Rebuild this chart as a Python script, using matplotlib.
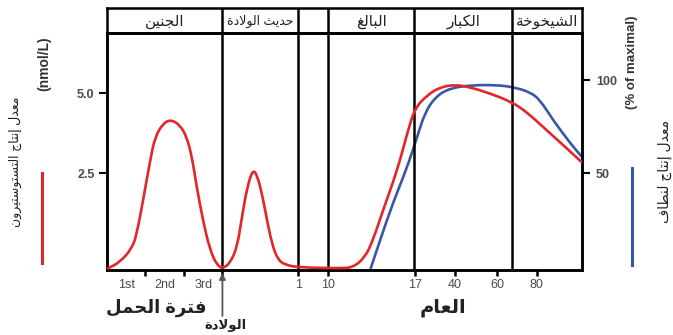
import matplotlib
matplotlib.use("Agg")
import matplotlib.pyplot as plt
from matplotlib.path import Path
from matplotlib.patches import PathPatch

plt.rcParams['font.family'] = ['Liberation Sans', 'DejaVu Sans']

# ---------------- data ----------------
stage_labels = ['الجنين', 'حديث الولادة', '', 'البالغ', 'الكبار', 'الشيخوخة']
stage_bounds = [0, 24.3, 40.3, 46.6, 64.7, 85.3, 100]
trimester_labels = ['1st', '2nd', '3rd']
trimester_bounds = [0, 8.1, 16.2, 24.3]
age_labels = ['1', '10', '17', '40', '60', '80']
age_pos = [40.3, 46.6, 64.8, 73.3, 82.1, 90.5]

testo_x = [0.2, 2.7, 5.3, 6.3, 7.6, 9.1, 10.1, 11.8, 13.5, 15.4, 16.8, 17.9, 18.9,
           20.2, 21.7, 23.2, 24.4, 25.9, 27.4, 28.4, 29.5, 30.7, 31.6, 32.6, 33.7,
           34.7, 36.0, 37.9, 40.6, 49.1, 51.8, 54.3, 56.0, 58.1, 61.1, 63.2, 64.8,
           67.4, 70.1, 73.3, 76.4, 80.6, 85.3, 88.4, 92.6, 96.8, 100.0]
testo_y = [-0.47, -0.28, 0.16, 0.63, 1.66, 2.91, 3.63, 4.06, 4.18, 4.0, 3.63, 3.0, 2.06,
           1.03, 0.09, -0.38, -0.47, -0.31, 0.19, 1.13, 2.06, 2.62, 2.44, 1.88, 1.03,
           0.31, -0.22, -0.38, -0.44, -0.47, -0.44, -0.13, 0.41, 1.34, 2.59, 3.75, 4.53,
           4.94, 5.19, 5.27, 5.19, 5.0, 4.72, 4.41, 3.84, 3.28, 2.84]

sperm_x = [55.4, 57.5, 60.2, 63.2, 65.3, 66.9, 69.1, 72.2, 77.1, 82.1, 85.5, 89.1,
           91.2, 93.9, 97.5, 100.0]
sperm_y = [-2.2, 14.0, 33.9, 53.2, 69.4, 82.3, 90.9, 95.7, 97.3, 97.3, 96.2, 93.5,
           89.2, 78.5, 66.1, 58.6]

left_ticks = [2.5, 5.0]
left_tick_labels = ['2.5', '5.0']
right_ticks = [50, 100]
right_tick_labels = ['50', '100']

RED = '#e3262c'
BLUE = '#3a57a7'
TXT = '#4a4a55'

# -------------- Arabic shaping (presentation forms, visual order) --------------
_forms = {
    '\u0627': ('\uFE8D', '\uFE8E', None, None),
    '\u0625': ('\uFE87', '\uFE88', None, None),
    '\u0628': ('\uFE8F', '\uFE90', '\uFE91', '\uFE92'),
    '\u0629': ('\uFE93', '\uFE94', None, None),
    '\u062A': ('\uFE95', '\uFE96', '\uFE97', '\uFE98'),
    '\u062B': ('\uFE99', '\uFE9A', '\uFE9B', '\uFE9C'),
    '\u062C': ('\uFE9D', '\uFE9E', '\uFE9F', '\uFEA0'),
    '\u062D': ('\uFEA1', '\uFEA2', '\uFEA3', '\uFEA4'),
    '\u062E': ('\uFEA5', '\uFEA6', '\uFEA7', '\uFEA8'),
    '\u062F': ('\uFEA9', '\uFEAA', None, None),
    '\u0631': ('\uFEAD', '\uFEAE', None, None),
    '\u0633': ('\uFEB1', '\uFEB2', '\uFEB3', '\uFEB4'),
    '\u0634': ('\uFEB5', '\uFEB6', '\uFEB7', '\uFEB8'),
    '\u0637': ('\uFEC1', '\uFEC2', '\uFEC3', '\uFEC4'),
    '\u0639': ('\uFEC9', '\uFECA', '\uFECB', '\uFECC'),
    '\u063A': ('\uFECD', '\uFECE', '\uFECF', '\uFED0'),
    '\u0641': ('\uFED1', '\uFED2', '\uFED3', '\uFED4'),
    '\u0643': ('\uFED9', '\uFEDA', '\uFEDB', '\uFEDC'),
    '\u0644': ('\uFEDD', '\uFEDE', '\uFEDF', '\uFEE0'),
    '\u0645': ('\uFEE1', '\uFEE2', '\uFEE3', '\uFEE4'),
    '\u0646': ('\uFEE5', '\uFEE6', '\uFEE7', '\uFEE8'),
    '\u0648': ('\uFEED', '\uFEEE', None, None),
    '\u064A': ('\uFEF1', '\uFEF2', '\uFEF3', '\uFEF4'),
}
_lam_alef = {'\u0627': ('\uFEFB', '\uFEFC'), '\u0625': ('\uFEF9', '\uFEFA')}


def shape(s):
    toks = []
    i = 0
    while i < len(s):
        c = s[i]
        if c == '\u0644' and i + 1 < len(s) and s[i + 1] in _lam_alef:
            toks.append(('LA', s[i + 1]))
            i += 2
        else:
            toks.append(('C', c))
            i += 1

    def is_ar(t):
        return t[0] == 'LA' or t[1] in _forms

    def joins_next(t):
        if t[0] == 'LA':
            return False
        f = _forms.get(t[1])
        return f is not None and f[2] is not None

    out = []
    for k, t in enumerate(toks):
        prev_j = k > 0 and joins_next(toks[k - 1]) and is_ar(t)
        if t[0] == 'LA':
            out.append(_lam_alef[t[1]][1 if prev_j else 0])
            continue
        f = _forms.get(t[1])
        if f is None:
            out.append(t[1])
            continue
        next_j = f[2] is not None and k + 1 < len(toks) and is_ar(toks[k + 1])
        if prev_j and next_j:
            out.append(f[3])
        elif prev_j:
            out.append(f[1])
        elif next_j:
            out.append(f[2])
        else:
            out.append(f[0])
    return ''.join(reversed(out))


def smooth_curve(axis, xs, ys, **kw):
    """Quadratic-Bezier path using the read points as control points."""
    pts = list(zip(xs, ys))
    verts = [pts[0]]
    codes = [Path.MOVETO]
    mid = lambda a, b: ((a[0] + b[0]) / 2, (a[1] + b[1]) / 2)
    verts.append(mid(pts[0], pts[1]))
    codes.append(Path.LINETO)
    for i in range(1, len(pts) - 1):
        verts += [pts[i], mid(pts[i], pts[i + 1])]
        codes += [Path.CURVE3, Path.CURVE3]
    verts.append(pts[-1])
    codes.append(Path.LINETO)
    patch = PathPatch(Path(verts, codes), facecolor='none', transform=axis.transData,
                      capstyle='round', joinstyle='round', **kw)
    axis.add_patch(patch)
    return patch


# ---------------- figure ----------------
W, H = 673, 335
fig = plt.figure(figsize=(W / 100, H / 100), dpi=100)


def fx(px):
    return px / W


def fy(py):
    return 1 - py / H


L, R, T, B, HT = 107, 582, 33, 269.5, 7.5
ax = fig.add_axes([fx(L), fy(B), fx(R) - fx(L), fy(T) - fy(B)])
hax = fig.add_axes([fx(L), fy(T), fx(R) - fx(L), fy(HT) - fy(T)])

ax.set_xlim(0, 100)
ax.set_ylim(-0.506, 6.884)
ax2 = ax.twinx()
ax2.set_ylim(-1.88, 125.3)
ax2.set_xlim(0, 100)

for b in stage_bounds[1:-1]:
    ax.axvline(b, color='black', lw=1.8, zorder=1)
    hax.axvline(b, color='black', lw=1.8)

smooth_curve(ax, testo_x, testo_y, edgecolor=RED, lw=1.9, zorder=3)
smooth_curve(ax2, sperm_x, sperm_y, edgecolor=BLUE, lw=1.9, zorder=2)
ax.set_zorder(ax2.get_zorder() + 1)
ax.patch.set_visible(False)

for a in (ax, ax2, hax):
    for sp in a.spines.values():
        sp.set_linewidth(1.8)
        sp.set_color('black')

# header
hax.set_xlim(0, 100)
hax.set_ylim(0, 1)
hax.set_xticks([])
hax.set_yticks([])
for lab, a0, a1 in zip(stage_labels, stage_bounds[:-1], stage_bounds[1:]):
    if lab:
        fs = 9 if len(lab) > 8 else 11
        hax.text((a0 + a1) / 2, 0.45, shape(lab), ha='center', va='center',
                 fontsize=fs, color='#222222')

# y ticks
ax.set_yticks(left_ticks)
ax.set_yticklabels(left_tick_labels)
ax.tick_params(axis='y', direction='out', length=6, width=1.5, pad=3,
               labelsize=9, labelcolor=TXT)
for t in ax.get_yticklabels():
    t.set_fontweight('bold')
ax2.set_yticks(right_ticks)
ax2.set_yticklabels(right_tick_labels)
ax2.tick_params(axis='y', direction='out', length=6, width=1.5, pad=4,
                labelsize=9, labelcolor=TXT)
for t in ax2.get_yticklabels():
    t.set_fontweight('bold')

# x ticks
major_pos = trimester_bounds[1:] + age_pos
major_lab = [''] * (len(trimester_bounds) - 1) + age_labels
ax.set_xticks(major_pos)
ax.set_xticklabels(major_lab)
minor_pos = [(a + b) / 2 for a, b in zip(trimester_bounds[:-1], trimester_bounds[1:])]
ax.set_xticks(minor_pos, minor=True)
ax.set_xticklabels(trimester_labels, minor=True)
ax.tick_params(axis='x', which='major', direction='out', length=4, width=1.8,
               pad=3, labelsize=9, labelcolor=TXT)
ax.tick_params(axis='x', which='minor', length=0, pad=7, labelsize=9, labelcolor=TXT)

# birth arrow and labels
xt = ax.get_xaxis_transform()


def ay(py):
    return (B - py) / (B - T)


ax.annotate('', xy=(24.3, ay(273)), xytext=(24.3, ay(316)), xycoords=xt,
            textcoords=xt, annotation_clip=False,
            arrowprops=dict(arrowstyle='-|>', color='#555555', lw=1.3,
                            mutation_scale=9, shrinkA=0, shrinkB=0))
ax.text(25.0, ay(325), shape('الولادة'), transform=xt, ha='center', va='center',
        fontsize=9.5, fontweight='bold', color='#222222', clip_on=False)
ax.text(10.3, ay(308), shape('فترة الحمل'), transform=xt, ha='center', va='center',
        fontsize=13, fontweight='bold', color='#222222', clip_on=False)
ax.text(70.7, ay(308), shape('العام'), transform=xt, ha='center', va='center',
        fontsize=14, fontweight='bold', color='#222222', clip_on=False)

# outside labels
fig.text(fx(44), fy(64), '(nmol/L)', rotation=90, ha='center', va='center',
         fontsize=10, fontweight='bold', color='#333333')
fig.text(fx(15), fy(162), shape('معدل إنتاج التستوستيرون'), rotation=90,
         ha='center', va='center', fontsize=9, color='#222222')
fig.add_artist(plt.Line2D([fx(42), fx(42)], [fy(173), fy(263)], color=RED, lw=2.2))

fig.text(fx(632), fy(62), '(% of maximal)', rotation=90, ha='center', va='center',
         fontsize=9.5, fontweight='bold', color='#333333')
fig.text(fx(665), fy(171), shape('معدل إنتاج لنطاف'), rotation=90,
         ha='center', va='center', fontsize=10, color='#222222')
fig.add_artist(plt.Line2D([fx(632), fx(632)], [fy(168), fy(265)], color=BLUE, lw=2.2))

fig.savefig('out.png', dpi=100)
